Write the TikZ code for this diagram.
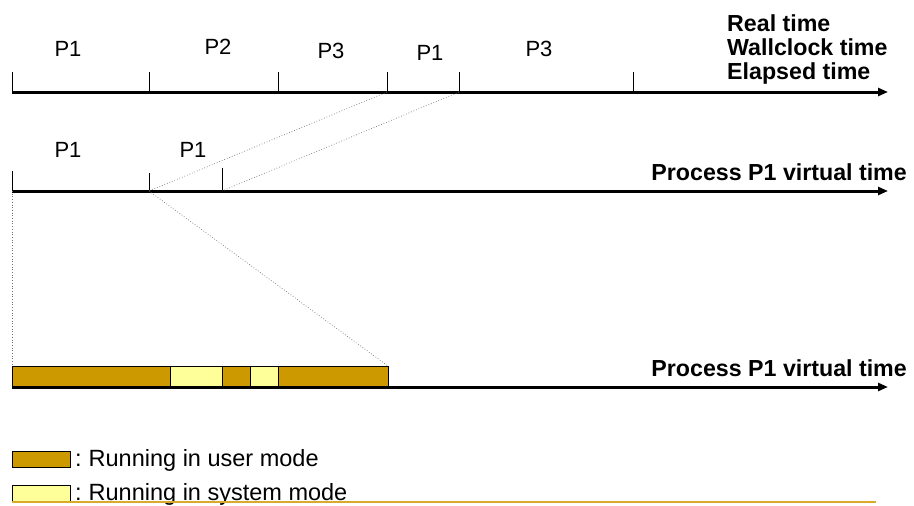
\documentclass[tikz,border=0pt]{standalone}
\usepackage{fontspec}
\setmainfont{Liberation Sans}
\usetikzlibrary{arrows.meta,positioning}
\definecolor{usergold}{HTML}{CC9900}
\definecolor{syspale}{HTML}{FFFF99}
\definecolor{rulegold}{HTML}{D9AA2B}

\begin{document}
\begin{tikzpicture}[
  x = 1pt,
  y = -1pt,
  axis/.style = {
    line width = 3pt,
    -{Triangle[length = 10pt, width = 8pt]}
  },
  tickline/.style = {
    line width = 0.8pt
  },
  guide/.style = {
    black!55,
    line width = 0.7pt,
    dotted
  },
  slot/.style = {
    font = \fontsize{22}{24}\selectfont,
    inner sep = 0pt
  },
  title/.style = {
    font = \fontsize{23.2}{24}\selectfont\bfseries,
    inner sep = 0pt
  },
  legend/.style = {
    font = \fontsize{23.5}{26}\selectfont,
    inner sep = 0pt
  },
  key/.style = {
    draw = black,
    line width = 0.8pt,
    minimum width = 58pt,
    minimum height = 16pt,
    inner sep = 0pt
  }
]
  \useasboundingbox (0, 0) rectangle (914, 506);

  % real time axis
  \coordinate (r0) at (12, 92);
  \coordinate (rEnd) at (888, 92);
  \foreach \x [count = \i] in {149, 278, 387, 459, 633} {
    \coordinate (r\i) at (\x, 92);
  }
  \foreach \i in {0, ..., 5} {
    \draw[tickline] (r\i) -- ++(0, -20);
  }
  \draw[axis] (r0) -- (rEnd);

  \node[slot] (s1) at (68, 49) {P1};
  \node[slot] (s2) at (218, 47) {P2};
  \node[slot] (s3) at (331, 51) {P3};
  \node[slot] (s4) at (430, 53) {P1};
  \node[slot] (s5) at (539, 49) {P3};

  \node[title, anchor = base west] (realT) at (727, 31) {Real time};
  \node[title, anchor = base west] (wallT) at (727, 55) {Wallclock time};
  \node[title, anchor = base west] (elapT) at (727, 79) {Elapsed time};

  % virtual time axis
  \coordinate (v0) at (12, 191);
  \coordinate (v1) at (149, 191);
  \coordinate (v2) at (222, 191);
  \coordinate (vEnd) at (888, 191);
  \draw[tickline] (v0) -- ++(0, -20);
  \draw[tickline] (v1) -- ++(0, -18);
  \draw[tickline] (v2) -- ++(0, -23);
  \draw[axis] (v0) -- (vEnd);

  \node[slot] (p1) at (68, 150) {P1};
  \node[slot] (p2) at (193, 150) {P1};
  \node[title, anchor = base east] (virtT) at (907, 180) {Process P1 virtual time};

  % zoomed axis
  \coordinate (b0) at (12, 366);
  \coordinate (b5) at (388, 366);
  \coordinate (bStart) at (12, 387);
  \coordinate (bEnd) at (888, 387);
  \foreach \a/\b/\c in {12/170/usergold, 170/222/syspale, 222/250/usergold,
                        250/278/syspale, 278/388/usergold} {
    \filldraw[fill = \c, draw = black, line width = 0.8pt] (\a, 366) rectangle (\b, 387);
  }
  \draw[axis] (bStart) -- (bEnd);
  \node[title, anchor = base east] (zoomT) at (907, 376) {Process P1 virtual time};

  \draw[guide] (r3) -- (v1);
  \draw[guide] (r4) -- (v2);
  \draw[guide] (v1) -- (b5);
  \draw[guide] (v0) -- (b0);

  % legend
  \node[key, fill = usergold, anchor = north west] (userKey) at (12, 451) {};
  \node[key, fill = syspale, anchor = north west] (sysKey) at (12, 485) {};
  \node[legend, anchor = base west] (userLbl) at (75, 466) {:\kern7pt Running in user mode};
  \node[legend, anchor = base west] (sysLbl) at (75, 500) {:\kern7pt Running in system mode};

  \coordinate (ruleL) at (12, 502);
  \coordinate (ruleR) at (876, 502);
  \draw[rulegold, line width = 1.5pt] (ruleL) -- (ruleR);
\end{tikzpicture}
\end{document}
